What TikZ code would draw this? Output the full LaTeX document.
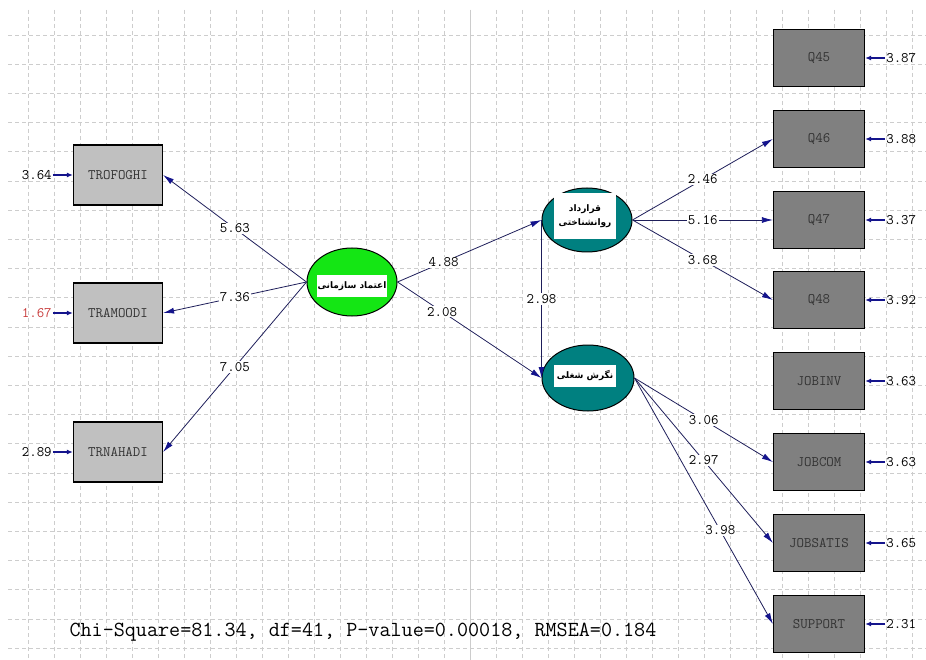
\documentclass[tikz,border=0pt]{standalone}
\usepackage{fontspec}
\usetikzlibrary{arrows.meta,positioning,shapes.geometric}
\TeXXeTstate=1
\newfontfamily\farsifont[Script=Arabic]{DejaVu Sans}
\definecolor{gridgray}{RGB}{205,205,205}
\definecolor{lineblue}{RGB}{30,30,90}
\definecolor{headblue}{RGB}{20,20,140}
\definecolor{lightbox}{RGB}{192,192,192}
\definecolor{darkbox}{RGB}{128,128,128}
\definecolor{latgreen}{RGB}{20,230,20}
\definecolor{latteal}{RGB}{0,128,128}
\definecolor{errred}{RGB}{200,60,60}

\begin{document}
\begin{tikzpicture}[x=1pt,y=-1pt,
        font=\ttfamily\fontsize{14.5}{16}\selectfont,
        gridline/.style={gridgray,dash pattern=on 4pt off 3pt,line width=0.7pt},
        leftbox/.style={draw,line width=1.2pt,fill=lightbox,minimum width=89pt,minimum height=60pt,inner sep=0pt,text=black!80},
        rightbox/.style={draw,line width=1.2pt,fill=darkbox,minimum width=91pt,minimum height=57pt,inner sep=0pt,text=black!80},
        latent/.style={draw,line width=1pt,ellipse,inner sep=0pt},
        latlabel/.style={fill=white,minimum width=62pt,minimum height=22pt,inner sep=1pt,align=center,font=\farsifont\bfseries\fontsize{9}{14}\selectfont},
        link/.style={lineblue,line width=0.8pt,-{Latex[length=11pt,width=6pt,color=headblue]}},
        coef/.style={fill=white,inner sep=1pt,text=black},
        errval/.style={inner sep=1pt},
        errlink/.style={headblue,line width=1.6pt,-{Latex[length=6pt,width=5pt]}}]

    \useasboundingbox (0,0) rectangle (926,660);

    % grid
    \foreach \gx in {0,...,34}
        \draw[gridline] ({28+26*\gx},10) -- ({28+26*\gx},660);
    \foreach \gy in {0,...,21}
        \draw[gridline] (8,{35+29.2*\gy}) -- (926,{35+29.2*\gy});
    \draw[gray!40,line width=0.8pt] (470,10) -- (470,660);

    % indicators
    \node[leftbox] (trofoghi) at (118,175) {TROFOGHI};
    \node[leftbox] (tramoodi) at (118,313) {TRAMOODI};
    \node[leftbox] (trnahadi) at (118,452) {TRNAHADI};

    \node[rightbox] (q45) at (819,58) {Q45};
    \node[rightbox] (q46) at (819,139) {Q46};
    \node[rightbox] (q47) at (819,220) {Q47};
    \node[rightbox] (q48) at (819,300) {Q48};
    \node[rightbox] (jobinv) at (819,381) {JOBINV};
    \node[rightbox] (jobcom) at (819,462) {JOBCOM};
    \node[rightbox] (jobsatis) at (819,543) {JOBSATIS};
    \node[rightbox] (support) at (819,624) {SUPPORT};

    % error terms
    \node[errval,left=20pt of trofoghi] (etrofoghi) {3.64};
    \node[errval,left=20pt of tramoodi,text=errred] (etramoodi) {1.67};
    \node[errval,left=20pt of trnahadi] (etrnahadi) {2.89};
    \node[errval,right=20pt of q45] (eq45) {3.87};
    \node[errval,right=20pt of q46] (eq46) {3.88};
    \node[errval,right=20pt of q47] (eq47) {3.37};
    \node[errval,right=20pt of q48] (eq48) {3.92};
    \node[errval,right=20pt of jobinv] (ejobinv) {3.63};
    \node[errval,right=20pt of jobcom] (ejobcom) {3.63};
    \node[errval,right=20pt of jobsatis] (ejobsatis) {3.65};
    \node[errval,right=20pt of support] (esupport) {2.31};

    \foreach \e/\v in {etrofoghi/trofoghi,etramoodi/tramoodi,etrnahadi/trnahadi,
            eq45/q45,eq46/q46,eq47/q47,eq48/q48,ejobinv/jobinv,
            ejobcom/jobcom,ejobsatis/jobsatis,esupport/support}
        \draw[errlink] (\e) -- (\v);

    % latent variables
    \node[latent,fill=latgreen,minimum width=90pt,minimum height=68pt] (trust) at (352,282) {};
    \node[latlabel] (trustlbl) at (352,286) {\beginR اعتماد سازمانی\endR};

    \node[latent,fill=latteal,minimum width=90pt,minimum height=64pt] (contract) at (587,220) {};
    \node[latlabel,minimum height=46pt] (contractlbl) at (585,216) {\beginR قرارداد\endR\\\beginR روانشناختی\endR};

    \node[latent,fill=latteal,minimum width=92pt,minimum height=66pt] (attitude) at (588,378) {};
    \node[latlabel] (attitudelbl) at (585,376) {\beginR نگرش شغلی\endR};

    % paths
    \draw[link] (trust.west) -- node[coef]{5.63} (trofoghi.east);
    \draw[link] (trust.west) -- node[coef]{7.36} (tramoodi.east);
    \draw[link] (trust.west) -- node[coef]{7.05} (trnahadi.east);
    \draw[link] (trust.east) -- node[coef,pos=0.32]{4.88} (contract.west);
    \draw[link] (trust.east) -- node[coef,pos=0.31]{2.08} (attitude.west);
    \draw[link] (contract.west) -- node[coef]{2.98} (attitude.west);

    \draw[link] (contract.east) -- node[coef]{2.46} (q46.west);
    \draw[link] (contract.east) -- node[coef]{5.16} (q47.west);
    \draw[link] (contract.east) -- node[coef]{3.68} (q48.west);
    \draw[link] (attitude.east) -- node[coef]{3.06} (jobcom.west);
    \draw[link] (attitude.east) -- node[coef]{2.97} (jobsatis.west);
    \draw[link] (attitude.east) -- node[coef,pos=0.62]{3.98} (support.west);

    % fit statistics
    \node[anchor=west,font=\ttfamily\fontsize{21.5}{24}\selectfont] (fit) at (66,632)
        {Chi-Square=81.34, df=41, P-value=0.00018, RMSEA=0.184};

\end{tikzpicture}
\end{document}
